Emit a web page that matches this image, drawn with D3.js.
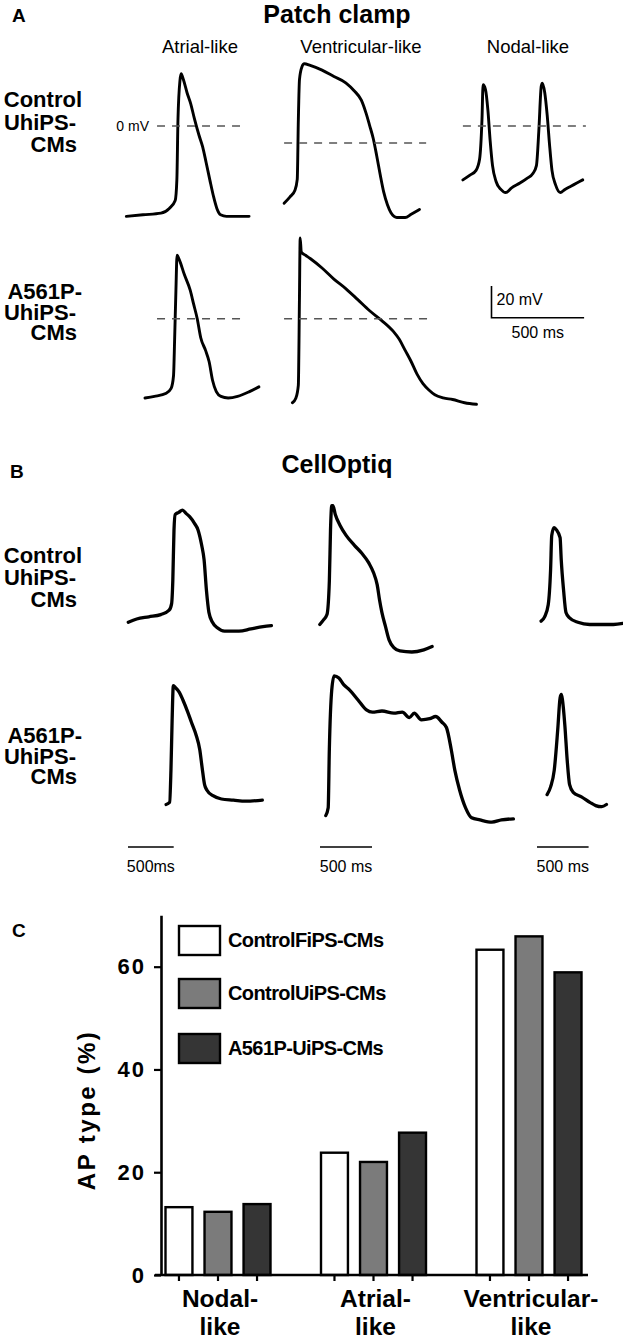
<!DOCTYPE html>
<html>
<head>
<meta charset="utf-8">
<script src="https://cdn.jsdelivr.net/npm/d3@7"></script>
<style>
  body { margin: 0; background: #fff; }
  svg { display: block; }
  text { font-family: "Liberation Sans", Arial, sans-serif; fill: #000; }
</style>
</head>
<body>
<svg id="fig" width="623" height="1340"></svg>
<script>
// ---- Panel A: patch clamp traces, [time ms, membrane potential mV] ----
const patchCtrlAtrial = [[0,-57],[90,-56],[187,-55],[232,-52],[264,-47],[273,-34],[279,4],[290,29],[296,33],[309,29],[328,21],[348,14],[367,5],[393,-6],[412,-13],[431,-23],[451,-34],[470,-44],[489,-52],[509,-56],[541,-57],[605,-57],[663,-57]];
const patchCtrlVent = [[0,-38],[32,-34],[58,-30],[71,-23],[77,15],[83,40],[96,48],[109,50],[141,49],[205,46],[269,42],[333,38],[378,33],[417,27],[442,19],[462,11],[481,3],[500,-8],[519,-20],[538,-31],[558,-39],[577,-44],[609,-47],[654,-47],[686,-45],[731,-42]];
const patchCtrlNodal = [[0,-34],[38,-31],[71,-28],[90,-21],[103,4],[109,26],[122,23],[135,10],[147,-9],[160,-25],[179,-35],[205,-40],[231,-42],[263,-39],[308,-36],[346,-33],[378,-30],[397,-25],[410,-3],[423,25],[429,27],[442,21],[455,7],[468,-12],[481,-28],[500,-37],[526,-42],[551,-40],[583,-38],[615,-36],[647,-34]];
const patchMutAtrial = [[0,-50],[51,-49],[115,-47],[141,-44],[154,-36],[160,-13],[167,18],[173,40],[186,37],[212,28],[244,18],[263,9],[282,0],[301,-12],[327,-20],[346,-27],[365,-39],[385,-46],[410,-49],[449,-50],[500,-49],[564,-46],[615,-43]];
const patchMutVent = [[0,-53],[19,-50],[32,-42],[38,12],[42,51],[48,42],[71,40],[96,38],[160,32],[224,25],[288,19],[353,12],[417,5],[481,-1],[545,-8],[577,-13],[609,-20],[641,-27],[673,-35],[705,-41],[737,-45],[769,-48],[814,-50],[865,-51],[930,-53],[994,-54]];

// ---- Panel B: CellOptiq optical traces, [time ms, signal a.u.] ----
const opticCtrlAtrial = [[0,7],[92,10],[224,12],[355,14],[447,18],[474,24],[487,45],[500,91],[513,105],[553,107],[592,109],[632,106],[671,103],[724,97],[763,91],[803,77],[829,64],[855,36],[882,16],[921,7],[974,2],[1053,-1],[1211,-1],[1342,1],[1474,3],[1566,4]];
const opticCtrlVent = [[0,5],[34,9],[69,14],[92,45],[103,91],[115,113],[126,113],[149,105],[195,95],[253,86],[333,77],[402,70],[471,61],[517,52],[552,41],[575,27],[597,16],[632,3],[666,-9],[712,-16],[770,-19],[885,-20],[1000,-18],[1080,-15]];
const opticCtrlNodal = [[0,8],[34,12],[69,23],[92,55],[103,86],[126,93],[149,91],[184,84],[195,64],[218,36],[241,16],[276,11],[356,7],[471,5],[586,5],[701,5],[793,6]];
const opticMutAtrial = [[0,5],[39,7],[53,36],[66,82],[79,113],[105,111],[145,107],[184,100],[237,89],[276,80],[329,68],[368,55],[395,38],[421,23],[447,18],[513,13],[605,10],[737,9],[869,8],[1053,9]];
const opticMutVent = [[0,-5],[23,2],[34,55],[57,109],[80,122],[126,120],[172,114],[230,109],[310,100],[391,91],[448,89],[540,90],[655,88],[735,89],[804,84],[850,88],[919,82],[999,83],[1057,85],[1115,80],[1160,75],[1206,55],[1241,36],[1287,18],[1344,2],[1402,-7],[1482,-9],[1597,-11],[1689,-9],[1804,-8]];
const opticMutNodal = [[0,14],[34,21],[69,36],[103,73],[126,102],[138,105],[149,100],[172,77],[195,45],[218,23],[253,16],[333,12],[414,7],[471,4],[529,3],[575,5]];

// ---- Panel C: AP type distribution (%) ----
const categories = ["Nodal-like", "Atrial-like", "Ventricular-like"];
const categoryLines = [["Nodal-", "like"], ["Atrial-", "like"], ["Ventricular-", "like"]];
const seriesNames = ["ControlFiPS-CMs", "ControlUiPS-CMs", "A561P-UiPS-CMs"];
const seriesColors = ["#ffffff", "#7b7b7b", "#353535"];
const fiValues = [13.2, 23.8, 63.3];
const uiValues = [12.3, 22.0, 65.9];
const mutValues = [13.8, 27.7, 58.9];
const yTicks = [0, 20, 40, 60];

const colHeaders = ["Atrial-like", "Ventricular-like", "Nodal-like"];
const rowLabelsCtrl = ["Control", "UhiPS-", "CMs"];
const rowLabelsMut = ["A561P-", "UhiPS-", "CMs"];

const svg = d3.select("#fig");

function label(x, y, txt, size, weight, anchor) {
  return svg.append("text").attr("x", x).attr("y", y).text(txt)
    .attr("font-size", size).attr("font-weight", weight || "normal")
    .attr("text-anchor", anchor || "start");
}

function rowLabel(lines, ends, baselines) {
  lines.forEach((s, i) => label(ends[i], baselines[i], s, 22, "bold", "end"));
}

// draws one trace with its own scales; returns the scales
function drawTrace(data, x0, y0, pxPerMs, pxPerUnit, width) {
  const x = d3.scaleLinear().domain([0, 500]).range([x0, x0 + 500 * pxPerMs]);
  const y = d3.scaleLinear().domain([0, 20]).range([y0, y0 - 20 * pxPerUnit]);
  const line = d3.line().x(d => x(d[0])).y(d => y(d[1])).curve(d3.curveMonotoneX);
  svg.append("path").datum(data).attr("d", line)
    .attr("fill", "none").attr("stroke", "#000").attr("stroke-width", width)
    .attr("stroke-linejoin", "round").attr("stroke-linecap", "round");
  return { x, y };
}

// ---------------- Panel A ----------------
label(12, 22, "A", 19, "bold");
label(337, 23, "Patch clamp", 25, "bold", "middle");
const headerX = [200, 361, 528];
colHeaders.forEach((h, i) => label(headerX[i], 53, h, 18.5, "normal", "middle"));
rowLabel(rowLabelsCtrl, [82, 76, 77], [107, 130, 152]);
rowLabel(rowLabelsMut, [82, 76, 77], [299, 320, 340]);

const mvPx = 1.585, msPxA = 0.1852;
const patchPanels = [
  { data: patchCtrlAtrial, x0: 126.3, y0: 126, dash: [166, 625] },
  { data: patchCtrlVent, x0: 284.1, y0: 143, dash: [0, 767] },
  { data: patchCtrlNodal, x0: 462.9, y0: 126, dash: [0, 664] },
  { data: patchMutAtrial, x0: 145, y0: 318.7, dash: [65, 524] },
  { data: patchMutVent, x0: 292.4, y0: 318.7, dash: [-45, 727] }
];
patchPanels.forEach((p, i) => {
  const s = drawTrace(p.data, p.x0, p.y0, msPxA, mvPx, 2.9);
  svg.append("line")
    .attr("x1", s.x(p.dash[0])).attr("x2", s.x(p.dash[1]))
    .attr("y1", s.y(0)).attr("y2", s.y(0))
    .attr("stroke", "#555").attr("stroke-width", 1.4).attr("stroke-dasharray", "8,7");
  if (i === 0) label(s.x(p.dash[0]) - 8, s.y(0) + 5, "0 mV", 14, "normal", "end");
});

// scale bar A
{
  const x = d3.scaleLinear().domain([0, 500]).range([491.5, 491.5 + 500 * msPxA]);
  const y = d3.scaleLinear().domain([0, 20]).range([317.7, 317.7 - 20 * mvPx]);
  svg.append("path")
    .attr("d", `M${x(0)},${y(20)}V${y(0)}H${x(500)}`)
    .attr("fill", "none").attr("stroke", "#000").attr("stroke-width", 1.6);
  label(x(0) + 5, 305, "20 mV", 16);
  label((x(0) + x(500)) / 2, 338, "500 ms", 16, "normal", "middle");
}

// ---------------- Panel B ----------------
label(10, 478, "B", 19, "bold");
label(337, 473, "CellOptiq", 25, "bold", "middle");
rowLabel(rowLabelsCtrl, [82, 76, 77], [563, 585, 607]);
rowLabel(rowLabelsMut, [82, 76, 77], [743, 764, 784]);

const colMs = [0.0914, 0.104, 0.1032];
const auPx = 1.1;
const opticPanels = [
  { data: opticCtrlAtrial, x0: 128.3, y0: 630, col: 0 },
  { data: opticCtrlVent, x0: 319.8, y0: 630, col: 1 },
  { data: opticCtrlNodal, x0: 541.1, y0: 630, col: 2 },
  { data: opticMutAtrial, x0: 166.1, y0: 810, col: 0 },
  { data: opticMutVent, x0: 325.8, y0: 810, col: 1 },
  { data: opticMutNodal, x0: 547.1, y0: 810, col: 2 }
];
opticPanels.forEach(p => drawTrace(p.data, p.x0, p.y0, colMs[p.col], auPx, 3.3));

const barStarts = [128, 320, 537];
const barTexts = ["500ms", "500 ms", "500 ms"];
barStarts.forEach((b, i) => {
  const x = d3.scaleLinear().domain([0, 500]).range([b, b + 500 * colMs[i]]);
  svg.append("line").attr("x1", x(0)).attr("x2", x(500)).attr("y1", 847).attr("y2", 847)
    .attr("stroke", "#000").attr("stroke-width", 1.6);
  label((x(0) + x(500)) / 2, 872, barTexts[i], 16, "normal", "middle");
});

// ---------------- Panel C ----------------
label(12, 937, "C", 19, "bold");
const values = [fiValues, uiValues, mutValues];
const y = d3.scaleLinear().domain([0, 70]).range([1275, 915.3]);
const x0 = d3.scaleBand().domain(categories).range([140.25, 606.75]);
const x1 = d3.scaleBand().domain(seriesNames).range([-52.5, 52.5]).paddingInner(0.31);

const gBars = svg.append("g");
categories.forEach((c, ci) => {
  const cx = x0(c) + x0.bandwidth() / 2;
  seriesNames.forEach((s, si) => {
    gBars.append("rect")
      .attr("x", cx + x1(s)).attr("width", x1.bandwidth())
      .attr("y", y(values[si][ci])).attr("height", y(0) - y(values[si][ci]))
      .attr("fill", seriesColors[si]).attr("stroke", "#000").attr("stroke-width", 2.4);
    svg.append("line")
      .attr("x1", cx + x1(s) + x1.bandwidth() / 2).attr("x2", cx + x1(s) + x1.bandwidth() / 2)
      .attr("y1", y(0)).attr("y2", y(0) + 6)
      .attr("stroke", "#000").attr("stroke-width", 2.2);
  });
  categoryLines[ci].forEach((t, li) =>
    label(cx + 2, 1307 + li * 28, t, 24.5, "bold", "middle"));
});

// x axis baseline
svg.append("line").attr("x1", 155).attr("x2", 588).attr("y1", y(0)).attr("y2", y(0))
  .attr("stroke", "#000").attr("stroke-width", 2.6);

// y axis
const yAxis = svg.append("g").attr("transform", "translate(161,0)")
  .call(d3.axisLeft(y).tickValues(yTicks).tickSize(7).tickSizeOuter(0).tickPadding(8));
yAxis.select(".domain").attr("stroke-width", 2.6);
yAxis.selectAll(".tick line").attr("stroke-width", 2.2);
yAxis.selectAll(".tick text")
  .attr("font-size", 22).attr("font-weight", "bold").attr("letter-spacing", 2)
  .attr("font-family", "'Liberation Sans', Arial, sans-serif");

svg.append("text")
  .attr("transform", "translate(95,1110) rotate(-90)")
  .attr("text-anchor", "middle").attr("font-size", 24).attr("font-weight", "bold")
  .attr("letter-spacing", 2.5).text("AP type (%)");

// legend
const legendTop = [926, 979, 1034];
seriesNames.forEach((s, i) => {
  svg.append("rect").attr("x", 179).attr("y", legendTop[i]).attr("width", 41).attr("height", 29)
    .attr("fill", seriesColors[i]).attr("stroke", "#000").attr("stroke-width", 2.4);
  label(228, legendTop[i] + 21, s, 20, "bold").attr("letter-spacing", -0.6);
});
</script>
</body>
</html>
